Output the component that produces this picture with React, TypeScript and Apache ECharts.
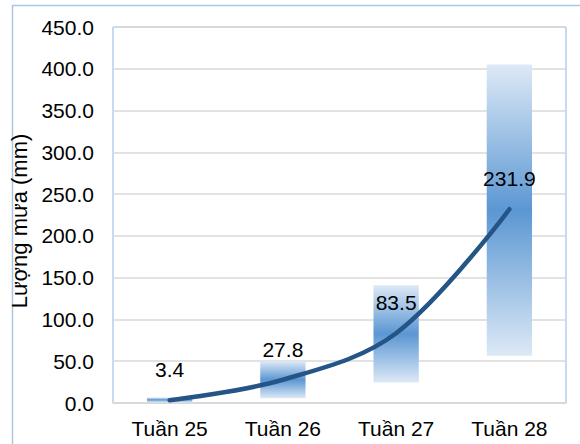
import React, { useEffect, useRef } from "react";
import * as echarts from "echarts";

const categories = ["Tuần 25", "Tuần 26", "Tuần 27", "Tuần 28"];
const rangeMin = [1.0, 5.6, 24.5, 56.5];
const rangeMax = [6.5, 50.0, 141.0, 405.0];
const meanValues = [3.4, 27.8, 83.5, 231.9];

export default function App() {
  const ref = useRef<HTMLDivElement>(null);
  useEffect(() => {
    const chart = echarts.init(ref.current!, null, { renderer: "svg" });
    const font = "'Liberation Sans', Arial, sans-serif";
    const grad = new echarts.graphic.LinearGradient(0, 0, 0, 1, [
      { offset: 0, color: "#dde9f6" },
      { offset: 0.5, color: "#5b97d3" },
      { offset: 1, color: "#dde9f6" },
    ]);
    chart.setOption({
      animation: false,
      graphic: [
        {
          type: "rect",
          shape: { x: 12.5, y: 5.5, width: 600, height: 500 },
          style: { fill: "none", stroke: "#a9c6e8", lineWidth: 1.5 },
          silent: true,
          z: -10,
        },
      ],
      grid: {
        left: 113,
        top: 27,
        right: 14,
        bottom: 41,
        show: true,
        borderColor: "#8db4e2",
        borderWidth: 1,
      },
      xAxis: {
        type: "category",
        data: categories,
        axisLine: { lineStyle: { color: "#d9d9d9", width: 1.5 } },
        axisTick: { show: false },
        axisLabel: { fontSize: 21, color: "#000", fontFamily: font, margin: 15 },
      },
      yAxis: {
        type: "value",
        min: 0,
        max: 450,
        interval: 50,
        name: "Lượng mưa (mm)",
        nameLocation: "middle",
        nameGap: 60,
        nameTextStyle: { fontSize: 22, color: "#000", fontFamily: font, padding: [0, 12, 0, 0] },
        axisLine: { show: false },
        axisTick: { show: false },
        splitLine: { lineStyle: { color: "#d9d9d9", width: 1.5 } },
        axisLabel: {
          fontSize: 21,
          color: "#000",
          fontFamily: font,
          margin: 19,
          formatter: (v: number) => v.toFixed(1),
        },
      },
      series: [
        {
          type: "bar",
          stack: "r",
          data: rangeMin,
          barWidth: "40%",
          itemStyle: { color: "transparent" },
          silent: true,
        },
        {
          type: "bar",
          stack: "r",
          data: rangeMax.map((m, i) => m - rangeMin[i]),
          barWidth: "40%",
          itemStyle: { color: grad },
        },
        {
          type: "line",
          data: meanValues,
          smooth: 0.35,
          symbol: "circle",
          symbolSize: 2,
          showSymbol: true,
          itemStyle: { color: "transparent", borderWidth: 0 },
          lineStyle: { color: "#245586", width: 4.5, cap: "round" },
          label: {
            show: true,
            position: "top",
            distance: 19,
            fontSize: 21,
            color: "#000",
            fontFamily: font,
            formatter: (p: any) => p.value.toFixed(1),
          },
          z: 5,
        },
      ],
    });
    return () => chart.dispose();
  }, []);
  return (
    <div
      ref={ref}
      style={{ position: "fixed", left: 0, top: 0, width: 580, height: 444, background: "#fff" }}
    />
  );
}
